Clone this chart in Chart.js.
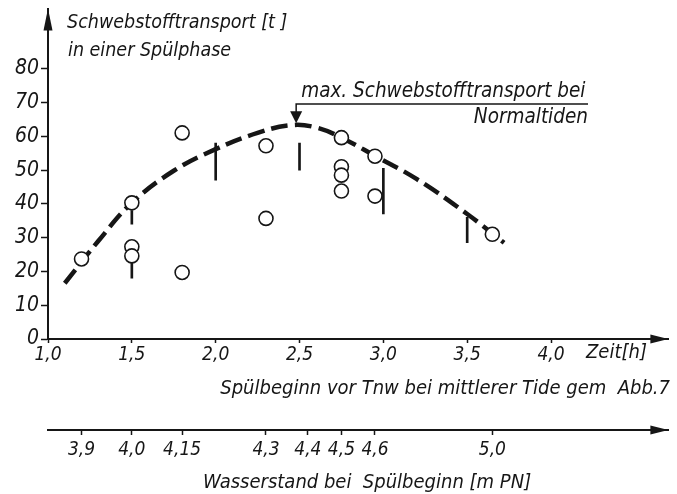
<!DOCTYPE html>
<html>
<head>
<meta charset="utf-8">
<script src="https://cdn.jsdelivr.net/npm/chart.js@4.4.1/dist/chart.umd.min.js"></script>
<style>
  html, body { margin: 0; padding: 0; background: #fff; }
  #wrap { width: 677px; height: 494px; }
</style>
</head>
<body>
<div id="wrap"><canvas id="chart"></canvas></div>
<script>
// Werte
const zeitTicks = [1.0, 1.5, 2.0, 2.5, 3.0, 3.5, 4.0];
const yTicks = [0, 10, 20, 30, 40, 50, 60, 70, 80];

// Messpunkte (Kreise)
const messZeit = [1.2, 1.5, 1.5, 1.5, 1.8, 1.8, 2.3, 2.3, 2.75, 2.75, 2.75, 2.75, 2.95, 2.95, 3.65];
const messWert = [23.7, 40.3, 27.3, 24.6, 61, 19.7, 57.2, 35.7, 59.6, 51, 48.5, 43.8, 54.1, 42.3, 31];

// gestrichelte Ausgleichskurve
const kurveZeit = [1.1, 1.3, 1.5, 1.75, 2.0, 2.25, 2.45, 2.6, 2.75, 2.95, 3.2, 3.5, 3.72];
const kurveWert = [16.5, 29, 40.3, 49.8, 56.2, 61, 63.3, 62.6, 59.6, 54.2, 47.3, 37, 28.5];

// senkrechte Striche
const strichZeit = [1.5, 1.5, 2.0, 2.5, 3.0, 3.5];
const strichVon = [34, 18, 47, 50, 37, 28.5];
const strichBis = [38, 23, 58, 58, 50.5, 36];

// zweite Achse: Wasserstand bei Spuelbeginn
const wasserZeit = [1.2, 1.5, 1.8, 2.3, 2.55, 2.75, 2.95, 3.65];
const wasserStand = ['3,9', '4,0', '4,15', '4,3', '4,4', '4,5', '4,6', '5,0'];

const maxZeit = 2.48;
const maxWert = 63.3;

const FONT = '"DejaVu Sans Condensed", "DejaVu Sans", sans-serif';
const INK = '#161616';

const komma = v => v.toFixed(1).replace('.', ',');

function pfeil(ctx, x, y, richtung) {
  ctx.beginPath();
  if (richtung === 'up') {
    ctx.moveTo(x, y);
    ctx.lineTo(x - 4.5, y + 22);
    ctx.lineTo(x + 4.5, y + 22);
  } else {
    ctx.moveTo(x, y);
    ctx.lineTo(x - 18, y - 4.5);
    ctx.lineTo(x - 18, y + 4.5);
  }
  ctx.closePath();
  ctx.fill();
}

const beschriftung = {
  id: 'beschriftung',
  afterDraw(chart) {
    const { ctx, chartArea: a, scales: { x, x2, y } } = chart;
    ctx.save();
    ctx.fillStyle = INK;
    ctx.strokeStyle = INK;

    pfeil(ctx, a.left, a.top, 'up');
    pfeil(ctx, a.right, x.top, 'right');
    pfeil(ctx, a.right, x2.top, 'right');

    ctx.textBaseline = 'middle';
    ctx.textAlign = 'left';
    ctx.font = 'italic 19.5px ' + FONT;
    ctx.fillText('Schwebstofftransport [t ]', 67, 23);
    ctx.fillText('in einer Spülphase', 68, 51);
    ctx.font = 'italic 20px ' + FONT;
    ctx.fillText('Zeit[h]', 586, x.top + 14);
    ctx.textAlign = 'right';
    ctx.fillText('Spülbeginn vor Tnw bei mittlerer Tide gem  Abb.7', 670, x.top + 50);
    ctx.textAlign = 'left';
    ctx.fillText('Wasserstand bei  Spülbeginn [m PN]', 203, x2.top + 53);

    // Hinweis auf das Maximum
    const px = x.getPixelForValue(maxZeit);
    const py = y.getPixelForValue(maxWert) - 2;
    const linieY = 104;
    ctx.lineWidth = 1.5;
    ctx.beginPath();
    ctx.moveTo(588, linieY);
    ctx.lineTo(px, linieY);
    ctx.lineTo(px, py - 10);
    ctx.stroke();
    ctx.beginPath();
    ctx.moveTo(px, py);
    ctx.lineTo(px - 6, py - 12);
    ctx.lineTo(px + 6, py - 12);
    ctx.closePath();
    ctx.fill();
    ctx.font = 'italic 20.5px ' + FONT;
    ctx.textAlign = 'left';
    ctx.fillText('max. Schwebstofftransport bei', px + 5, 92);
    ctx.textAlign = 'right';
    ctx.fillText('Normaltiden', 588, 118);
    ctx.restore();
  }
};

const ctx = document.getElementById('chart');
new Chart(ctx, {
  data: {
    datasets: [
      {
        type: 'scatter',
        label: 'Messwerte',
        data: messZeit.map((t, i) => ({ x: t, y: messWert[i] })),
        pointRadius: 7,
        pointBorderWidth: 1.6,
        pointBackgroundColor: '#fff',
        pointBorderColor: INK,
        showLine: false,
        order: 0
      },
      {
        type: 'line',
        label: 'Kurve',
        data: kurveZeit.map((t, i) => ({ x: t, y: kurveWert[i] })),
        borderColor: INK,
        borderWidth: 4.5,
        borderDash: [17, 7],
        borderCapStyle: 'butt',
        pointRadius: 0,
        tension: 0.4,
        fill: false,
        order: 1
      },
      {
        type: 'bar',
        label: 'Striche',
        data: strichZeit.map((t, i) => ({ x: t, y: [strichVon[i], strichBis[i]] })),
        backgroundColor: INK,
        barThickness: 2,
        order: 2
      }
    ]
  },
  options: {
    responsive: true,
    maintainAspectRatio: false,
    animation: false,
    layout: { padding: { top: 8, left: 0, right: 0, bottom: 0 } },
    plugins: {
      legend: { display: false },
      tooltip: { enabled: false }
    },
    scales: {
      x: {
        type: 'linear',
        position: 'bottom',
        weight: 0,
        min: 1.0,
        max: 4.7,
        offset: false,
        afterBuildTicks: s => { s.ticks = zeitTicks.map(v => ({ value: v })); },
        afterFit: s => { s.height = 91; s.paddingLeft = 0; s.paddingRight = 0; },
        grid: { offset: false, drawOnChartArea: false, drawTicks: true, tickLength: 4, color: INK, tickWidth: 1.5 },
        border: { display: true, color: INK, width: 2 },
        ticks: {
          font: { family: FONT, size: 19, style: 'italic' },
          color: INK,
          padding: 1,
          maxRotation: 0,
          autoSkip: false,
          callback: v => komma(v)
        }
      },
      x2: {
        type: 'linear',
        position: 'bottom',
        weight: 1,
        min: 1.0,
        max: 4.7,
        offset: false,
        afterBuildTicks: s => { s.ticks = wasserZeit.map(v => ({ value: v })); },
        afterFit: s => { s.height = 64; s.paddingLeft = 0; s.paddingRight = 0; },
        grid: { offset: false, drawOnChartArea: false, drawTicks: true, tickLength: 5, color: INK, tickWidth: 1.5 },
        border: { display: true, color: INK, width: 2 },
        ticks: {
          font: { family: FONT, size: 19, style: 'italic' },
          color: INK,
          padding: 4,
          maxRotation: 0,
          autoSkip: false,
          callback: (v, i) => wasserStand[i]
        }
      },
      y: {
        type: 'linear',
        min: 0,
        max: 97.8,
        afterBuildTicks: s => { s.ticks = yTicks.map(v => ({ value: v })); },
        afterFit: s => { s.width = 48; s.paddingTop = 0; s.paddingBottom = 0; },
        grid: { drawOnChartArea: false, drawTicks: true, tickLength: 7, color: INK, tickWidth: 1.5 },
        border: { display: true, color: INK, width: 2 },
        ticks: {
          font: { family: FONT, size: 21, style: 'italic' },
          color: INK,
          padding: 2,
          autoSkip: false
        }
      }
    }
  },
  plugins: [beschriftung]
});
</script>
</body>
</html>
